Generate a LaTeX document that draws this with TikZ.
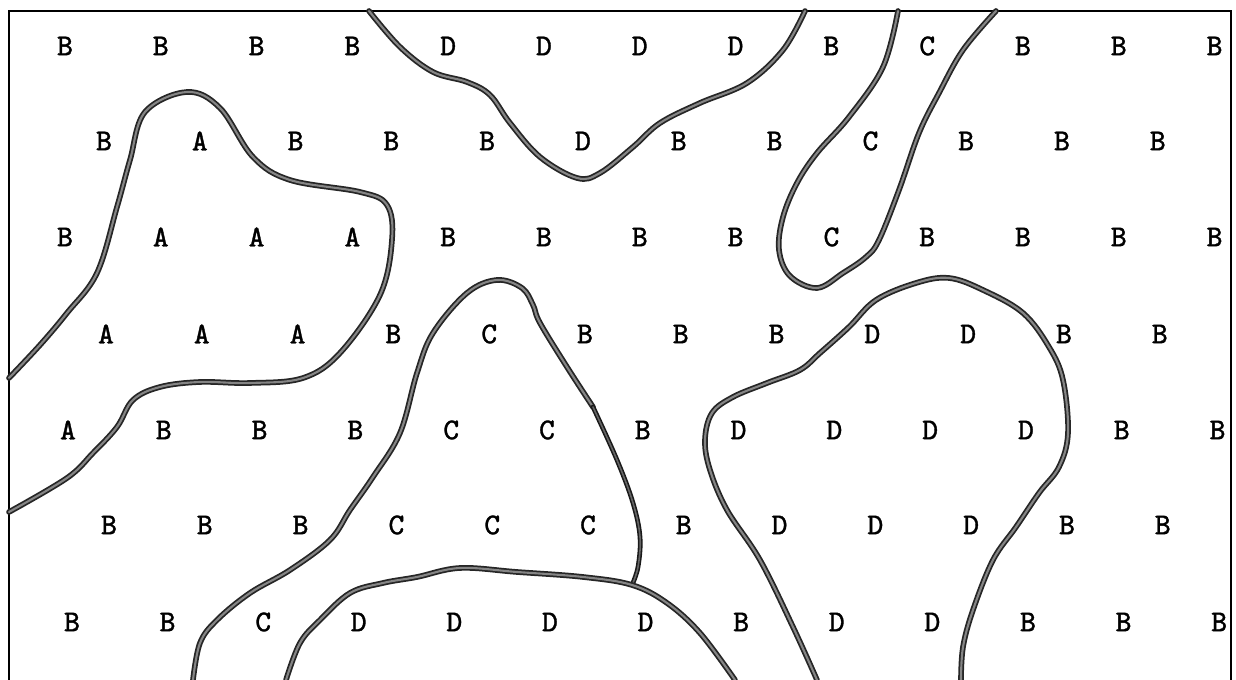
\documentclass[tikz,border=0pt]{standalone}
\usepackage{fontspec}
\newfontface\cellfont{Latin Modern Mono}[FakeBold=1.1]

\tikzset{
  cell/.style={font=\cellfont\fontsize{8.6}{10}\selectfont, inner sep=0pt},
  boundary/.style={draw=black!85, double=black!48, line width=0.5pt, double distance=0.6pt, line cap=round, line join=round},
  boundary thin/.style={draw=black!90, double=black!60, line width=0.45pt, double distance=0.45pt, line cap=round, line join=round},
  frame/.style={draw=black, line width=0.5pt}
}

\begin{document}
\begin{tikzpicture}[x=0.01cm, y=-0.01cm]
  \useasboundingbox (0,0) rectangle (1236,680);

  % map frame (open at the bottom)
  \draw[frame] (9,680) -- (9,11) -- (1231,11) -- (1231,680);

  % grid of cell labels
  \foreach \row/\xo/\yo/\dx/\letters in {
      1/65/46/95.8/{B,B,B,B,D,D,D,D,B,C,B,B,B},
      2/104/141/95.8/{B,A,B,B,B,D,B,B,C,B,B,B},
      3/65/237/95.8/{B,A,A,A,B,B,B,B,C,B,B,B,B},
      4/106/334/95.8/{A,A,A,B,C,B,B,B,D,D,B,B},
      5/68/430/95.8/{A,B,B,B,C,C,B,D,D,D,D,B,B},
      6/109/525/95.8/{B,B,B,C,C,C,B,D,D,D,B,B},
      7/72/622/95.6/{B,B,C,D,D,D,D,B,D,D,B,B,B}}{
    \foreach \l [count=\c] in \letters
      \node[cell] (r\row-\c) at ({\xo+\dx*(\c-1)},\yo) {\l};
  }

  % region A
  \draw[boundary] plot[smooth, tension=0.6] coordinates {
    (9,378) (40,345) (67,313) (97,273) (117,207) (130,160) (145,112)
    (187,92) (220,108) (253,157) (290,180) (360,192) (387,205) (392,240)
    (380,295) (340,353) (303,378) (250,383) (200,382) (160,387) (133,400)
    (117,427) (93,453) (67,478) (9,512)};

  % region D, top
  \draw[boundary] plot[smooth, tension=0.6] coordinates {
    (369,11) (400,47) (433,72) (467,82) (490,95) (510,123) (540,157)
    (577,178) (600,173) (633,147) (660,123) (700,103) (747,83) (783,50) (805,11)};

  % region C, top right
  \draw[boundary] plot[smooth, tension=0.6] coordinates {
    (898,11) (883,67) (849,117) (817,153) (797,183) (783,217) (779,250)
    (790,276) (817,288) (843,273) (866,257) (879,240) (899,190) (919,133)
    (939,93) (963,50) (996,11)};

  % region C, centre
  \draw[boundary] plot[smooth, tension=0.6] coordinates {
    (193,680) (200,643) (217,620) (250,593) (290,570) (330,540) (350,510)
    (373,477) (400,433) (417,373) (433,333) (467,293) (497,280) (522,288)
    (533,305) (540,323) (567,367) (593,407)};
  \draw[boundary thin] plot[smooth, tension=0.6] coordinates {
    (593,407) (617,460) (633,503) (640,537) (638,567) (632,585)};

  % region D, bottom
  \draw[boundary] plot[smooth, tension=0.6] coordinates {
    (286,680) (300,643) (320,620) (350,593) (383,583) (417,577) (460,568)
    (517,572) (583,577) (632,585) (667,603) (700,633) (735,680)};

  % region D, right
  \draw[boundary] plot[smooth, tension=0.6] coordinates {
    (817,680) (793,627) (760,560) (727,510) (710,470) (705,440) (712,413)
    (733,397) (767,383) (800,370) (820,353) (849,327) (876,300) (916,283)
    (949,278) (983,290) (1023,313) (1049,347) (1063,380) (1068,433) (1059,467)
    (1039,493) (1016,527) (993,560) (973,610) (963,647) (961,680)};
\end{tikzpicture}
\end{document}
